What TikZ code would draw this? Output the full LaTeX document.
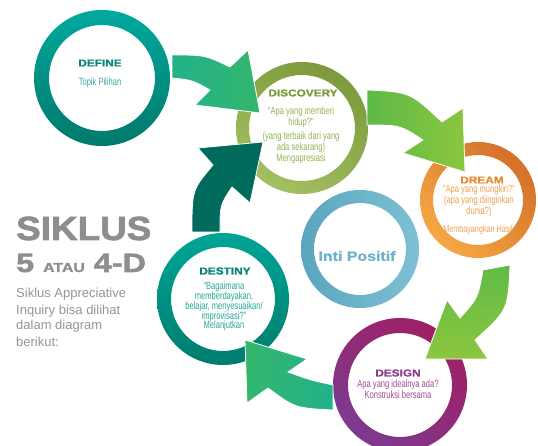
\documentclass[tikz,border=0pt]{standalone}
\usepackage{fontspec}
\setmainfont{Liberation Sans}
\newfontfamily\titlefont[FakeStretch=1.18,BoldFeatures={FakeBold=1.2}]{Liberation Sans}
\newfontfamily\bigfont[FakeStretch=1.1,BoldFeatures={FakeBold=2}]{Liberation Sans}
\newfontfamily\xwidefont[FakeStretch=1.22,BoldFeatures={FakeBold=2}]{Liberation Sans}
\newfontfamily\condfont[FakeStretch=0.72]{Liberation Sans}
\definecolor{defTop}{HTML}{00A99D}
\definecolor{defBot}{HTML}{00796B}
\definecolor{disTop}{HTML}{7C9A3C}
\definecolor{disBot}{HTML}{A2C062}
\definecolor{drTop}{HTML}{D4702A}
\definecolor{drBot}{HTML}{F5A843}
\definecolor{intiL}{HTML}{5AA6BD}
\definecolor{intiR}{HTML}{7EC0D5}
\definecolor{dsTop}{HTML}{00A596}
\definecolor{dsBot}{HTML}{007D6E}
\definecolor{deTop}{HTML}{A01F63}
\definecolor{deBot}{HTML}{7D3A8F}
\definecolor{defT}{HTML}{0A8478}
\definecolor{defB}{HTML}{3AA89C}
\definecolor{disT}{HTML}{7C9A3C}
\definecolor{disB}{HTML}{93B255}
\definecolor{drT}{HTML}{E48A30}
\definecolor{drB}{HTML}{F0A050}
\definecolor{intiT}{HTML}{6DB3CB}
\definecolor{dsT}{HTML}{008575}
\definecolor{dsB}{HTML}{25A898}
\definecolor{deT}{HTML}{8A3A8A}
\definecolor{deB}{HTML}{A04A95}
\definecolor{grayT}{HTML}{8D8E90}
\definecolor{grayB}{HTML}{939598}
\definecolor{aGreenA}{HTML}{34B66C}
\definecolor{aGreenB}{HTML}{22B28A}
\definecolor{aLimeA}{HTML}{5DB947}
\definecolor{aLimeB}{HTML}{8CC63F}
\definecolor{aDark}{HTML}{006B5D}
\begin{document}
\begin{tikzpicture}[x=1pt,y=-1pt,
  ttl/.style={font=\titlefont\bfseries\fontsize{10}{11}\selectfont, inner sep=0pt},
  body/.style={font=\condfont\fontsize{10.5}{9.6}\selectfont, align=center, inner sep=0pt},
  leftline/.style={anchor=base west, inner sep=0pt, text=grayB, font=\fontsize{13}{16}\selectfont},
  arrowshape/.style={draw=white, line width=0.8pt}]
\useasboundingbox (0,0) rectangle (538,446);
% circle centres
\coordinate (define) at (102,78);
\coordinate (discovery) at (302,128);
\coordinate (dream) at (478,200);
\coordinate (inti) at (360,249);
\coordinate (destiny) at (223,299);
\coordinate (design) at (400,385);
% rings
\path[even odd rule, top color=defTop, bottom color=defBot] (define) circle (68pt) (define) circle (53pt);
\path[even odd rule, top color=disTop, bottom color=disBot, shading angle=-30] (discovery) circle (66pt) (discovery) circle (53pt);
\path[even odd rule, top color=drTop, bottom color=drBot, shading angle=-45] (dream) circle (58pt) (dream) circle (45pt);
\path[even odd rule, left color=intiL, right color=intiR] (inti) circle (59pt) (inti) circle (46pt);
\path[even odd rule, top color=dsTop, bottom color=dsBot] (destiny) circle (66pt) (destiny) circle (52pt);
\path[even odd rule, top color=deTop, bottom color=deBot, shading angle=-40] (design) circle (67pt) (design) circle (52pt);
% arrows
\path[arrowshape, left color=aGreenB, right color=aGreenA]
  (172,55) .. controls (205,55) .. (230,67) -- (248,50) -- (260,113) -- (195,105) -- (210,90) .. controls (192,80) .. (172,78) -- cycle;
\path[arrowshape, left color=aLimeA, right color=aLimeB]
  (367,90) .. controls (410,92) .. (442,122) -- (463,108) -- (465,172) -- (403,153) -- (423,140) .. controls (400,125) .. (367,125) -- cycle;
\path[arrowshape, top color=aLimeA!90!aLimeB, bottom color=aLimeB]
  (483,270) -- (510,265) .. controls (508,310) .. (475,340) -- (488,359) -- (425,359) -- (447,300) -- (460,318) .. controls (478,298) .. (483,270) -- cycle;
\path[arrowshape, left color=aGreenA, right color=aGreenB]
  (333,385) .. controls (310,380) .. (288,372) -- (307,359) -- (245,340) -- (247,403) -- (268,388) .. controls (295,408) .. (333,410) -- cycle;
\path[arrowshape, fill=aDark]
  (192,232) .. controls (192,190) .. (213,165) -- (198,148) -- (263,142) -- (250,203) -- (232,187) .. controls (220,205) .. (220,232) -- cycle;
% texts in circles
\node[ttl, text=defT] (defineT) at (100,63) {DEFINE};
\node[body, text=defB] (defineB) at (100,83) {Topik Pilihan};
\node[ttl, text=disT] (discT) at (303,93) {DISCOVERY};
\node[body, text=disB] (discB1) at (301,117) {“Apa yang memberi\\hidup?”};
\node[body, text=disB] (discB2) at (301,147.5) {(yang terbaik dari yang\\ada sekarang)\\Mengapresiasi};
\node[ttl, text=drT] (dreamT) at (482,180) {DREAM};
\node[body, text=drB] (dreamB1) at (479,201) {“Apa yang mungkin?”\\(apa yang diinginkan\\dunia?)};
\node[body, text=drB, font=\condfont\fontsize{10}{9.6}\selectfont] (dreamB2) at (478,230) {Membayangkan Hasil};
\node[inner sep=0pt, text=intiT, font=\titlefont\bfseries\fontsize{13.5}{14}\selectfont] (intiT) at (357,256) {Inti Positif};
\node[ttl, text=dsT] (destT) at (225,271) {DESTINY};
\node[body, text=dsB, font=\condfont\fontsize{10.5}{9.8}\selectfont] (destB) at (224,306.5) {“Bagaimana\\memberdayakan,\\belajar, menyesuaikan/\\improvisasi?”\\Melanjutkan};
\node[ttl, text=deT] (desT) at (398,373) {DESIGN};
\node[body, text=deB] (desB) at (398,389) {Apa yang idealnya ada?\\Konstruksi bersama};
% left title
\node[anchor=base west, inner sep=0pt, text=grayT, font=\bigfont\bfseries\fontsize{33.5}{34}\selectfont] (sik) at (16,240) {SIKLUS};
\node[anchor=base west, inner sep=0pt, text=grayT, font=\xwidefont\bfseries\fontsize{26.5}{27}\selectfont] (five) at (16,272) {5 {\fontsize{13}{13}\selectfont ATAU} 4-D};
\node[leftline] (l1) at (16,298) {Siklus Appreciative};
\node[leftline] (l2) at (16,314) {Inquiry bisa dilihat};
\node[leftline] (l3) at (16,330) {dalam diagram};
\node[leftline] (l4) at (16,346) {berikut:};
\end{tikzpicture}
\end{document}
